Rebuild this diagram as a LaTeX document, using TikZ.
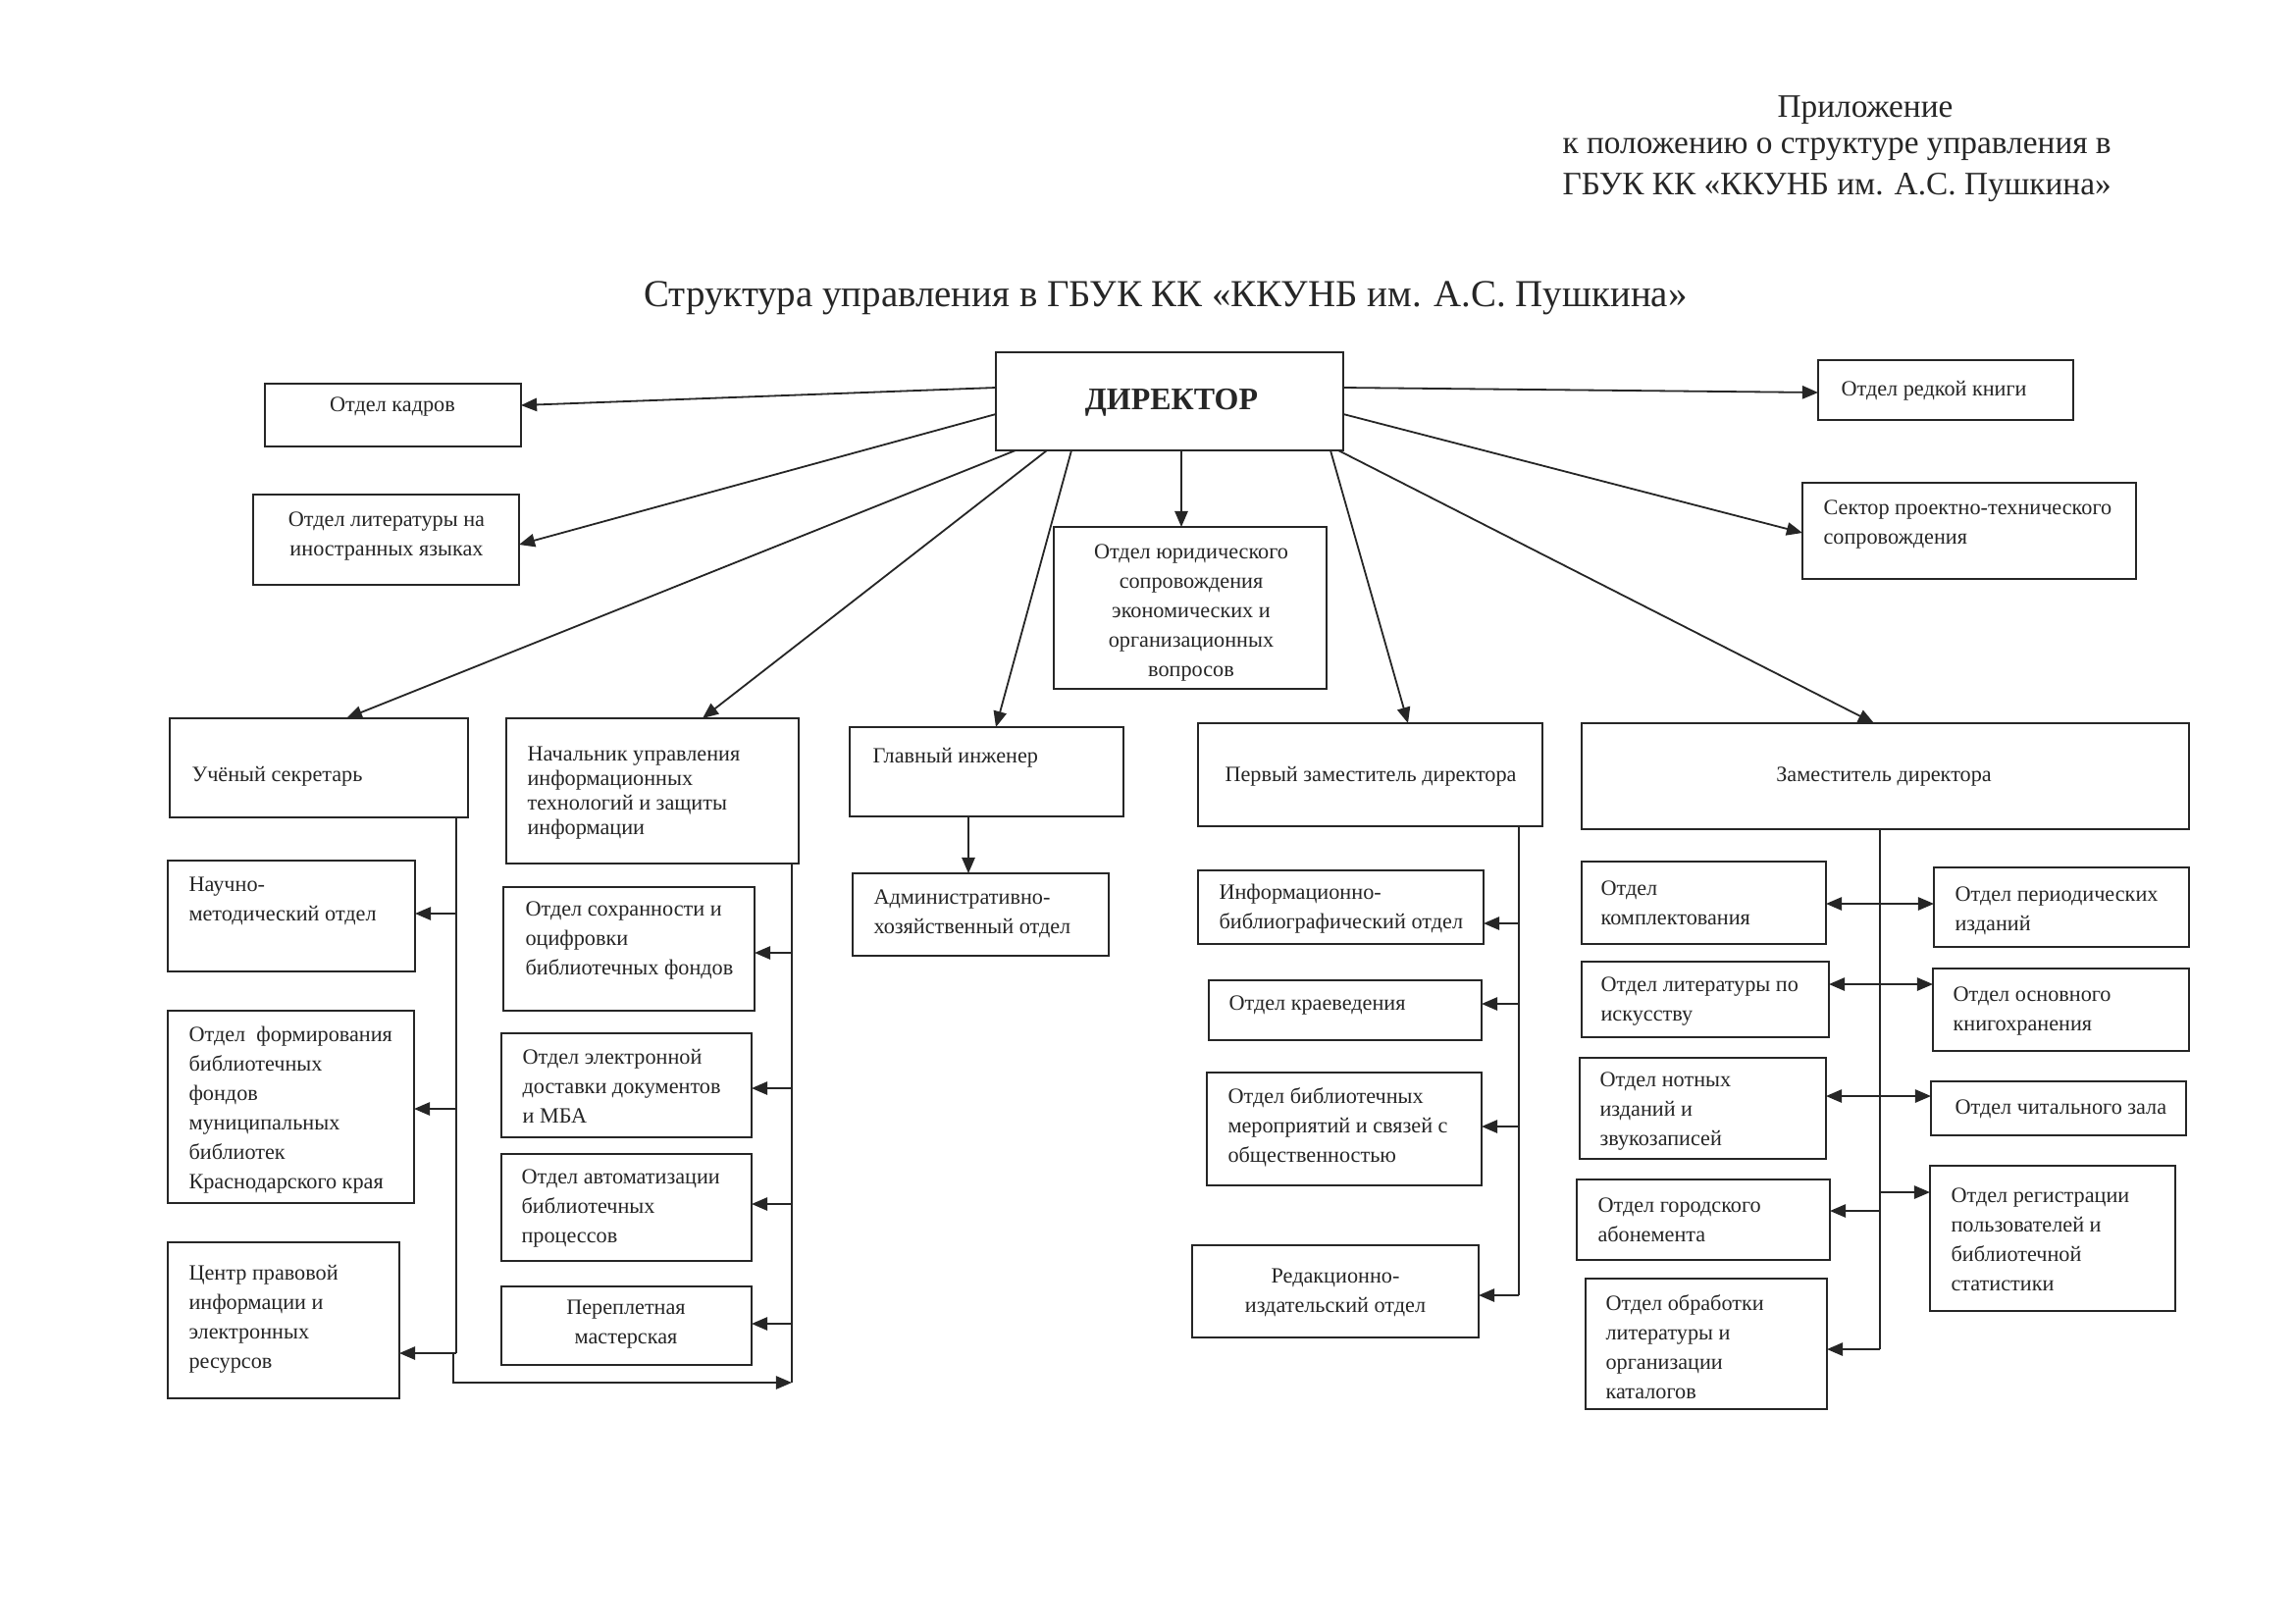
\documentclass[tikz,border=0pt]{standalone}
\usepackage{fontspec}
\setmainfont{Liberation Serif}
\usetikzlibrary{arrows.meta,fit,calc}
\newcommand{\bx}[5]{\node[box, fit={(#2,#3) (#4,#5)}] (#1) {};}
\begin{document}
\begin{tikzpicture}[x=0.36pt,y=-0.36pt,
  box/.style={draw=black!85, line width=0.75pt, inner sep=0pt, outer sep=0pt},
  txt/.style={inner sep=0pt, font=\fontsize{8}{10.8}\selectfont, align=left, text=black!85},
  ctxt/.style={txt, align=center},
  ln/.style={draw=black!85, line width=0.65pt},
  arr/.style={ln, -{Triangle[length=5.8pt,width=4.8pt]}},
  dbl/.style={ln, {Triangle[length=5.8pt,width=4.8pt]}-{Triangle[length=5.8pt,width=4.8pt]}}]
\useasboundingbox[fill=white] (0,0) rectangle (2338,1654);

% header
\node[inner sep=0pt, font=\fontsize{12}{14}\selectfont, text=black!85] (h1) at (1901,112) {Приложение};
\node[inner sep=0pt, font=\fontsize{12}{14}\selectfont, text=black!85, anchor=west] (h2) at (1592,152) {к положению о структуре управления в};
\node[inner sep=0pt, font=\fontsize{12}{14}\selectfont, text=black!85, anchor=west] (h3) at (1592,191) {ГБУК КК «ККУНБ им. А.С. Пушкина»};
\node[inner sep=0pt, font=\fontsize{14}{17}\selectfont, text=black!85] (title) at (1188,304) {Структура управления в ГБУК КК «ККУНБ им. А.С. Пушкина»};

% boxes
\bx{kadr}{270}{391}{531}{455}
\bx{inos}{258}{504}{529}{596}
\bx{dir}{1015}{359}{1369}{459}
\bx{redk}{1853}{367}{2113}{428}
\bx{sekt}{1837}{492}{2177}{590}
\bx{yur}{1074}{537}{1352}{702}
\bx{us}{173}{732}{477}{833}
\bx{nach}{516}{732}{814}{880}
\bx{glav}{866}{741}{1145}{832}
\bx{adm}{869}{890}{1130}{974}
\bx{perv}{1221}{737}{1572}{842}
\bx{zam}{1612}{737}{2231}{845}
\bx{nm}{171}{877}{423}{990}
\bx{form}{171}{1030}{422}{1226}
\bx{centr}{171}{1266}{407}{1425}
\bx{sokh}{513}{904}{769}{1030}
\bx{elek}{511}{1053}{766}{1159}
\bx{avto}{511}{1176}{766}{1285}
\bx{perepl}{511}{1311}{766}{1391}
\bx{infb}{1221}{887}{1512}{962}
\bx{kraev}{1232}{999}{1510}{1060}
\bx{merop}{1230}{1093}{1510}{1208}
\bx{redak}{1215}{1269}{1507}{1363}
\bx{kompl}{1612}{878}{1861}{962}
\bx{isk}{1612}{980}{1864}{1057}
\bx{notn}{1610}{1078}{1861}{1181}
\bx{gor}{1607}{1202}{1865}{1284}
\bx{obr}{1616}{1303}{1862}{1436}
\bx{per}{1971}{884}{2231}{965}
\bx{osn}{1970}{987}{2231}{1071}
\bx{chit}{1968}{1102}{2228}{1157}
\bx{reg}{1967}{1188}{2217}{1336}

% texts
\node[ctxt] (t-kadr) at (400,414) {Отдел кадров};
\node[ctxt] (t-inos) at (394,546) {Отдел литературы на\\иностранных языках};
\node[inner sep=0pt, font=\bfseries\fontsize{11.5}{14}\selectfont, text=black!85] (t-dir) at (1194,410) {ДИРЕКТОР};
\node[txt, anchor=west] (t-redk) at (1876,398) {Отдел редкой книги};
\node[txt, anchor=west] (t-sekt) at (1858,534) {Сектор проектно-технического\\сопровождения};
\node[ctxt] (t-yur) at (1214,624) {Отдел юридического\\сопровождения\\экономических и\\организационных\\вопросов};
\node[txt, anchor=west] (t-us) at (195,791) {Учёный секретарь};
\node[txt, anchor=west, font=\fontsize{8}{9.1}\selectfont] (t-nach) at (537,808) {Начальник управления\\информационных\\технологий и защиты\\информации};
\node[txt, anchor=west] (t-glav) at (889,772) {Главный инженер};
\node[txt, anchor=west] (t-adm) at (890,931) {Административно-\\хозяйственный отдел};
\node[ctxt] (t-perv) at (1397,791) {Первый заместитель директора};
\node[ctxt] (t-zam) at (1920,791) {Заместитель директора};
\node[txt, anchor=west] (t-nm) at (192,918) {Научно-\\методический отдел};
\node[txt, anchor=west] (t-form) at (192,1131) {Отдел\ \ формирования\\библиотечных\\фондов\\муниципальных\\библиотек\\Краснодарского края};
\node[txt, anchor=west] (t-centr) at (192,1344) {Центр правовой\\информации и\\электронных\\ресурсов};
\node[txt, anchor=west] (t-sokh) at (535,958) {Отдел сохранности и\\оцифровки\\библиотечных фондов};
\node[txt, anchor=west] (t-elek) at (532,1107) {Отдел электронной\\доставки документов\\и МБА};
\node[txt, anchor=west] (t-avto) at (531,1231) {Отдел автоматизации\\библиотечных\\процессов};
\node[ctxt] (t-perepl) at (638,1350) {Переплетная\\мастерская};
\node[txt, anchor=west] (t-infb) at (1242,926) {Информационно-\\библиографический отдел};
\node[txt, anchor=west] (t-kraev) at (1252,1024) {Отдел краеведения};
\node[txt, anchor=west] (t-merop) at (1251,1149) {Отдел библиотечных\\мероприятий и связей с\\общественностью};
\node[ctxt] (t-redak) at (1361,1317) {Редакционно-\\издательский отдел};
\node[txt, anchor=west] (t-kompl) at (1631,920) {Отдел\\комплектования};
\node[txt, anchor=west] (t-isk) at (1631,1021) {Отдел литературы по\\искусству};
\node[txt, anchor=west] (t-notn) at (1630,1133) {Отдел нотных\\изданий и\\звукозаписей};
\node[txt, anchor=west] (t-gor) at (1628,1243) {Отдел городского\\абонемента};
\node[txt, anchor=west] (t-obr) at (1636,1373) {Отдел обработки\\литературы и\\организации\\каталогов};
\node[txt, anchor=west] (t-per) at (1992,928) {Отдел периодических\\изданий};
\node[txt, anchor=west] (t-osn) at (1990,1030) {Отдел основного\\книгохранения};
\node[txt, anchor=west] (t-chit) at (1992,1130) {Отдел читального зала};
\node[txt, anchor=west] (t-reg) at (1988,1263) {Отдел регистрации\\пользователей и\\библиотечной\\статистики};

% director connectors
\draw[arr] (dir.west |- 0,395) -- (kadr.east |- 0,413);
\draw[arr] (dir.west |- 0,422) -- (inos.east |- 0,555);
\draw[arr] (dir.south -| 1035,0) -- (us.north -| 353,0);
\draw[arr] (dir.south -| 1067,0) -- (nach.north -| 716,0);
\draw[arr] (dir.south -| 1092,0) -- (glav.north -| 1015,0);
\draw[arr] (dir.south -| 1204,0) -- (yur.north -| 1204,0);
\draw[arr] (dir.south -| 1356,0) -- (perv.north -| 1435,0);
\draw[arr] (dir.south -| 1364,0) -- (zam.north -| 1910,0);
\draw[arr] (dir.east |- 0,395) -- (redk.west |- 0,400);
\draw[arr] (dir.east |- 0,422) -- (sekt.west |- 0,543);

% Uchenyi sekretar
\draw[ln] (us.south -| 465,0) coordinate (usv) -- (465,1379) coordinate (usb);
\draw[arr] (465,931) -- (nm.east |- 0,931);
\draw[arr] (465,1130) -- (form.east |- 0,1130);
\draw[arr] (usb) -- (centr.east |- usb);
\draw[ln] (nach.south -| 807,0) -- (807,1409) coordinate (nb);
\draw[arr] (462,1379) -- (462,1409) -- (nb);
\draw[arr] (807,971) -- (sokh.east |- 0,971);
\draw[arr] (807,1109) -- (elek.east |- 0,1109);
\draw[arr] (807,1227) -- (avto.east |- 0,1227);
\draw[arr] (807,1349) -- (perepl.east |- 0,1349);

% Glavnyi inzhener
\draw[arr] (glav.south -| 987,0) -- (adm.north -| 987,0);

% Pervyi zam
\draw[ln] (perv.south -| 1548,0) -- (1548,1320);
\draw[arr] (1548,941) -- (infb.east |- 0,941);
\draw[arr] (1548,1023) -- (kraev.east |- 0,1023);
\draw[arr] (1548,1148) -- (merop.east |- 0,1148);
\draw[arr] (1548,1320) -- (redak.east |- 0,1320);

% Zam
\draw[ln] (zam.south -| 1916,0) -- (1916,1375);
\draw[dbl] (kompl.east |- 0,921) -- (per.west |- 0,921);
\draw[dbl] (isk.east |- 0,1003) -- (osn.west |- 0,1003);
\draw[dbl] (notn.east |- 0,1117) -- (chit.west |- 0,1117);
\draw[arr] (1916,1215) -- (reg.west |- 0,1215);
\draw[arr] (1916,1234) -- (gor.east |- 0,1234);
\draw[arr] (1916,1375) -- (obr.east |- 0,1375);
\end{tikzpicture}
\end{document}
